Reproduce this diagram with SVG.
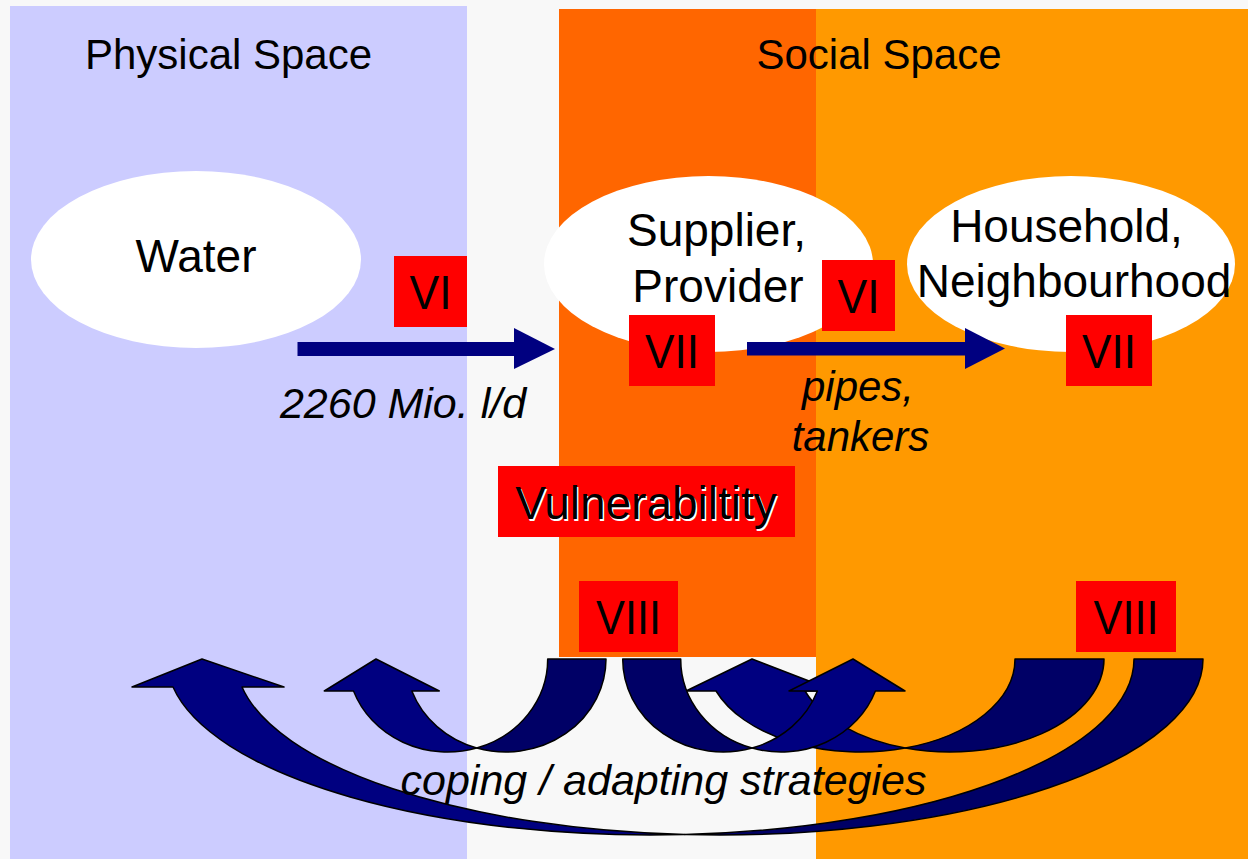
<svg xmlns="http://www.w3.org/2000/svg" width="1248" height="859" viewBox="0 0 1248 859">
<style>
text{font-family:"Liberation Sans",Arial,sans-serif;fill:#000}
.h{font-size:42px;text-anchor:middle}
.n{font-size:46px;text-anchor:middle}
.i{font-size:42px;font-style:italic;text-anchor:middle}
.il{font-size:43px;font-style:italic;text-anchor:middle}
.r{font-size:49px;text-anchor:middle}
.box{fill:#ff0000}
.ell{fill:#ffffff}
.arr{fill:#000080}
.tail{fill:#000066;stroke:#000;stroke-width:1.5;stroke-linejoin:round}
.head{fill:#000080;stroke:#000;stroke-width:1.5;stroke-linejoin:round}
</style>
<g id="background">
<rect x="0" y="0" width="1248" height="859" fill="#f8f8f8"/>
<rect x="10" y="6" width="457" height="853" fill="#ccccff"/>
<rect x="816" y="9" width="432" height="850" fill="#ff9900"/>
<rect x="559" y="9" width="257" height="648" fill="#ff6600"/>
<text class="h" x="228.5" y="69">Physical Space</text>
<text class="h" x="879" y="69">Social Space</text>
</g>
<g id="node-water">
<ellipse class="ell" cx="196" cy="259.5" rx="165" ry="88.5"/>
<text class="n" x="196" y="272">Water</text>
</g>
<g id="node-supplier">
<ellipse class="ell" cx="708.5" cy="264" rx="164.5" ry="88"/>
<text class="n" x="716.5" y="246">Supplier,</text>
<text class="n" x="718" y="302">Provider</text>
</g>
<g id="node-household">
<ellipse class="ell" cx="1071" cy="264" rx="164" ry="88"/>
<text class="n" x="1066.5" y="242">Household,</text>
<text class="n" x="1074" y="297">Neighbourhood</text>
</g>
<g id="connectors">
<g id="arrow-water-supplier">
<rect class="arr" x="297.5" y="342" width="217" height="14"/>
<polygon class="arr" points="514,328 555,349 514,369"/>
</g>
<g id="arrow-supplier-household">
<rect class="arr" x="747" y="342" width="219" height="13.5"/>
<polygon class="arr" points="965,328 1005,348.5 965,369"/>
</g>
<g id="curved-big">
<path class="tail" d="M1134 659 L1203 659 A483.6 176 0 0 1 684.9 834.55 A483.6 176 0 0 0 1134 659 Z"/>
<path class="head" d="M202 659 L284 687 L242 687 A483.6 176 0 0 0 684.9 834.55 A483.6 176 0 0 1 173 687 L132 687 Z"/>
</g>
<g id="curved-left">
<path class="tail" d="M547.7 659 L606 659 A100.15 93 0 0 1 476.7 747.97 A100.15 93 0 0 0 547.7 659 Z"/>
<path class="head" d="M376 659 L439.3 691 L411.82 691 A100.15 93 0 0 0 476.7 747.97 A100.15 93 0 0 1 353.52 691 L324.3 691 Z"/>
</g>
<g id="curved-right">
<path class="tail" d="M1015 659 L1104 659 A154.2 93 0 0 1 905.3 748.04 A154.2 93 0 0 0 1015 659 Z"/>
<path class="head" d="M752 659 L835 691 L805 691 A154.2 93 0 0 0 905.3 748.04 A154.2 93 0 0 1 716 691 L686 691 Z"/>
</g>
<g id="curved-middle">
<path class="tail" d="M680.7 659 L622.7 659 A100.4 93 0 0 0 752.1 748.04 A100.4 93 0 0 1 680.7 659 Z"/>
<path class="head" d="M853 659 L789 691 L817.4 691 A100.4 93 0 0 1 752.1 748.04 A100.4 93 0 0 0 875.4 691 L905 691 Z"/>
</g>
</g>
<g id="label-vi-1">
<rect class="box" x="394" y="256" width="73" height="71"/>
<text class="r" x="430.5" y="309" textLength="42" lengthAdjust="spacingAndGlyphs">VI</text>
</g>
<g id="label-vi-2">
<rect class="box" x="822" y="260" width="73" height="71"/>
<text class="r" x="858.5" y="313" textLength="42" lengthAdjust="spacingAndGlyphs">VI</text>
</g>
<g id="label-vii-1">
<rect class="box" x="629" y="315" width="86" height="71"/>
<text class="r" x="672" y="368" textLength="54" lengthAdjust="spacingAndGlyphs">VII</text>
</g>
<g id="label-vii-2">
<rect class="box" x="1066" y="315" width="86" height="71"/>
<text class="r" x="1109" y="368" textLength="54" lengthAdjust="spacingAndGlyphs">VII</text>
</g>
<g id="label-viii-1">
<rect class="box" x="579" y="581" width="99" height="71"/>
<text class="r" x="628.5" y="634" textLength="65" lengthAdjust="spacingAndGlyphs">VIII</text>
</g>
<g id="label-viii-2">
<rect class="box" x="1076" y="581" width="100" height="71"/>
<text class="r" x="1126" y="634" textLength="65" lengthAdjust="spacingAndGlyphs">VIII</text>
</g>
<g id="label-vulnerability">
<rect class="box" x="498" y="466" width="297" height="71"/>
<text class="n" x="647.5" y="520.5" style="fill:#ffffff">Vulnerabiltity</text>
<text class="n" x="646" y="519">Vulnerabiltity</text>
</g>
<g id="labels">
<text class="il" x="403" y="418">2260 Mio. l/d</text>
<text class="i" x="858" y="401">pipes,</text>
<text class="i" x="860.5" y="451">tankers</text>
<text class="il" x="663.5" y="795">coping / adapting strategies</text>
</g>
</svg>
